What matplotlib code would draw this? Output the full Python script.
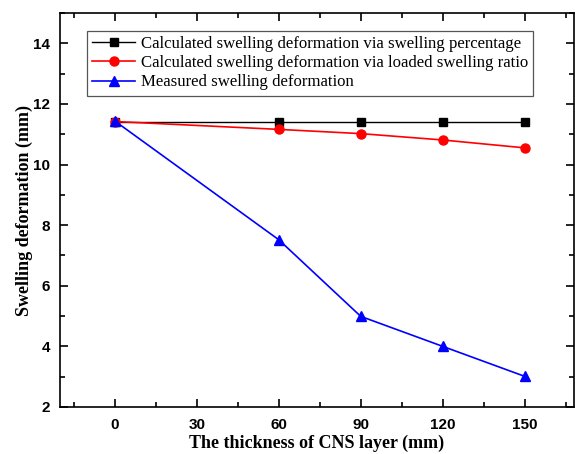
import matplotlib.pyplot as plt
from matplotlib.ticker import MultipleLocator

thickness = [0, 60, 90, 120, 150]
calc_percentage = [11.42, 11.42, 11.42, 11.42, 11.42]
calc_loaded = [11.42, 11.16, 11.02, 10.81, 10.55]
measured = [11.44, 7.52, 4.99, 4.0, 3.01]

fig = plt.figure(figsize=(5.75, 4.54), dpi=100)
ax = fig.add_axes([60/575, 47/454, 514/575, 394/454])

ax.plot(thickness, calc_percentage, color='black', lw=1, marker='s', ms=6,
        label='Calculated swelling deformation via swelling percentage')
ax.plot(thickness, calc_loaded, color='red', lw=1.2, marker='o', ms=6.5,
        label='Calculated swelling deformation via loaded swelling ratio')
ax.plot(thickness, measured, color='blue', lw=1.2, marker='^', ms=7,
        label='Measured swelling deformation')

ax.set_xlim(-20, 168)
ax.set_ylim(2, 15)
ax.xaxis.set_major_locator(MultipleLocator(30))
ax.xaxis.set_minor_locator(MultipleLocator(15))
ax.yaxis.set_major_locator(MultipleLocator(2))
ax.yaxis.set_minor_locator(MultipleLocator(1))
ax.tick_params(which='both', direction='in', top=True, right=True, width=1.2)
ax.tick_params(which='major', length=6)
ax.tick_params(which='minor', length=3.5)
ax.tick_params(axis='x', pad=8)
ax.tick_params(axis='y', pad=7)
for lbl in ax.get_xticklabels() + ax.get_yticklabels():
    lbl.set_fontfamily('Liberation Sans')
    lbl.set_fontweight('bold')
    lbl.set_fontsize(11)
for sp in ax.spines.values():
    sp.set_linewidth(1.2)

ax.set_xlabel('The thickness of CNS layer (mm)', fontfamily='Liberation Serif',
              fontweight='bold', fontsize=13, labelpad=2)
ax.set_ylabel('Swelling deformation (mm)', fontfamily='Liberation Serif',
              fontweight='bold', fontsize=13, labelpad=0)

leg = ax.legend(loc='upper left', bbox_to_anchor=(0.052, 0.955), fancybox=False,
                edgecolor='#555555', framealpha=1, borderpad=0.3, labelspacing=0.2,
                handlelength=2.6, handletextpad=0.3, borderaxespad=0,
                prop={'family': 'Liberation Serif', 'size': 12.1})
leg.get_frame().set_linewidth(0.9)

fig.savefig('out.png', dpi=100)
